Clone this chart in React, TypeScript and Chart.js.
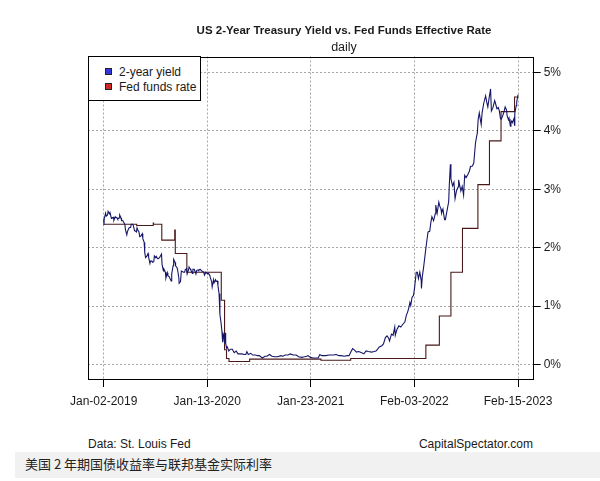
import React, { useEffect, useRef } from "react";
import { Chart, registerables } from "chart.js";

Chart.register(...registerables);

// ---------- DATA ----------
const yieldDates = [
  "2019-01-02","2019-01-03","2019-01-04","2019-01-09","2019-01-11","2019-01-16","2019-01-18","2019-01-23","2019-01-25","2019-01-30",
  "2019-02-01","2019-02-06","2019-02-08","2019-02-13","2019-02-15","2019-02-20","2019-02-22","2019-02-27","2019-03-01","2019-03-06",
  "2019-03-08","2019-03-13","2019-03-15","2019-03-20","2019-03-22","2019-03-27","2019-03-29","2019-04-03","2019-04-05","2019-04-10",
  "2019-04-12","2019-04-17","2019-04-19","2019-04-24","2019-04-26","2019-05-01","2019-05-03","2019-05-08","2019-05-10","2019-05-13",
  "2019-05-17","2019-05-22","2019-05-24","2019-05-29","2019-05-31","2019-06-03","2019-06-07","2019-06-12","2019-06-14","2019-06-19",
  "2019-06-21","2019-06-26","2019-06-28","2019-07-03","2019-07-05","2019-07-10","2019-07-12","2019-07-17","2019-07-19","2019-07-24",
  "2019-07-26","2019-07-31","2019-08-02","2019-08-07","2019-08-09","2019-08-14","2019-08-16","2019-08-21","2019-08-23","2019-08-28",
  "2019-08-30","2019-09-04","2019-09-06","2019-09-11","2019-09-13","2019-09-18","2019-09-20","2019-09-25","2019-09-27","2019-10-02",
  "2019-10-03","2019-10-08","2019-10-11","2019-10-16","2019-10-18","2019-10-23","2019-10-25","2019-10-30","2019-11-01","2019-11-06",
  "2019-11-08","2019-11-13","2019-11-15","2019-11-20","2019-11-22","2019-11-27","2019-12-03","2019-12-06","2019-12-11","2019-12-13",
  "2019-12-18","2019-12-20","2019-12-27","2019-12-31","2020-01-03","2020-01-08","2020-01-10","2020-01-15","2020-01-17","2020-01-22",
  "2020-01-24","2020-01-29","2020-01-31","2020-02-05","2020-02-07","2020-02-12","2020-02-14","2020-02-19","2020-02-21","2020-02-25",
  "2020-02-28","2020-03-03","2020-03-06","2020-03-09","2020-03-11","2020-03-13","2020-03-16","2020-03-18","2020-03-20","2020-03-23",
  "2020-03-26","2020-03-31","2020-04-06","2020-04-13","2020-04-20","2020-04-27","2020-05-04","2020-05-11","2020-05-18","2020-05-26",
  "2020-06-01","2020-06-05","2020-06-10","2020-06-19","2020-06-26","2020-07-06","2020-07-13","2020-07-20","2020-07-31","2020-08-10",
  "2020-08-17","2020-08-26","2020-09-04","2020-09-14","2020-09-25","2020-10-07","2020-10-14","2020-10-22","2020-11-02","2020-11-09",
  "2020-11-20","2020-12-01","2020-12-10","2020-12-21","2020-12-31","2021-01-08","2021-01-13","2021-01-22","2021-02-01","2021-02-10",
  "2021-02-19","2021-02-25","2021-03-04","2021-03-12","2021-03-18","2021-03-31","2021-04-06","2021-04-15","2021-04-26","2021-05-05",
  "2021-05-14","2021-05-25","2021-06-04","2021-06-11","2021-06-17","2021-06-24","2021-06-30","2021-07-08","2021-07-16","2021-07-27",
  "2021-08-04","2021-08-12","2021-08-20","2021-09-01","2021-09-10","2021-09-17","2021-09-24","2021-09-29","2021-10-08","2021-10-14",
  "2021-10-21","2021-10-27","2021-11-02","2021-11-05","2021-11-12","2021-11-18","2021-11-24","2021-11-26","2021-12-02","2021-12-09",
  "2021-12-16","2021-12-22","2021-12-31","2022-01-05","2022-01-10","2022-01-14","2022-01-18","2022-01-21","2022-01-26","2022-01-31",
  "2022-02-04","2022-02-10","2022-02-14","2022-02-18","2022-02-23","2022-02-28","2022-03-01","2022-03-04","2022-03-09","2022-03-11",
  "2022-03-16","2022-03-22","2022-03-25","2022-03-31","2022-04-04","2022-04-08","2022-04-14","2022-04-20","2022-04-22","2022-04-27",
  "2022-05-03","2022-05-06","2022-05-11","2022-05-13","2022-05-18","2022-05-24","2022-05-27","2022-06-02","2022-06-08","2022-06-10",
  "2022-06-14","2022-06-16","2022-06-22","2022-06-27","2022-07-01","2022-07-06","2022-07-12","2022-07-14","2022-07-22","2022-07-27",
  "2022-08-01","2022-08-05","2022-08-10","2022-08-16","2022-08-22","2022-08-26","2022-09-02","2022-09-07","2022-09-13","2022-09-16",
  "2022-09-20","2022-09-23","2022-09-27","2022-09-30","2022-10-04","2022-10-07","2022-10-13","2022-10-20","2022-10-25","2022-10-28",
  "2022-11-02","2022-11-07","2022-11-10","2022-11-15","2022-11-22","2022-11-25","2022-11-30","2022-12-05","2022-12-09","2022-12-13",
  "2022-12-16","2022-12-21","2022-12-27","2022-12-30","2023-01-04","2023-01-06","2023-01-11","2023-01-13","2023-01-18","2023-01-20",
  "2023-01-25","2023-01-31","2023-02-02","2023-02-03","2023-02-08","2023-02-10","2023-02-14","2023-02-15"
];
const yieldValues = [
  2.49,2.39,2.50,2.59,2.54,2.56,2.62,2.58,2.60,2.50,
  2.51,2.52,2.47,2.53,2.52,2.51,2.49,2.51,2.56,2.51,
  2.46,2.46,2.44,2.40,2.31,2.22,2.27,2.33,2.34,2.35,
  2.40,2.40,2.39,2.29,2.29,2.27,2.34,2.28,2.27,2.19,
  2.20,2.24,2.16,2.09,1.92,1.83,1.85,1.90,1.84,1.73,
  1.77,1.77,1.75,1.76,1.86,1.83,1.85,1.81,1.81,1.83,
  1.85,1.89,1.71,1.60,1.63,1.58,1.48,1.57,1.52,1.50,
  1.50,1.43,1.55,1.69,1.80,1.75,1.69,1.66,1.63,1.48,
  1.39,1.42,1.60,1.59,1.58,1.58,1.62,1.64,1.55,1.62,
  1.67,1.63,1.61,1.56,1.63,1.63,1.55,1.61,1.62,1.61,
  1.63,1.63,1.59,1.58,1.53,1.58,1.57,1.55,1.56,1.53,
  1.49,1.42,1.33,1.45,1.40,1.45,1.42,1.43,1.35,1.21,
  0.86,0.72,0.59,0.38,0.52,0.49,0.36,0.54,0.37,0.28,
  0.30,0.23,0.26,0.26,0.20,0.23,0.18,0.18,0.18,0.17,
  0.17,0.22,0.17,0.19,0.16,0.16,0.15,0.15,0.11,0.14,
  0.14,0.17,0.14,0.13,0.13,0.15,0.14,0.16,0.16,0.18,
  0.16,0.16,0.13,0.12,0.13,0.14,0.15,0.12,0.11,0.11,
  0.11,0.17,0.15,0.15,0.15,0.16,0.16,0.16,0.17,0.15,
  0.15,0.14,0.15,0.15,0.21,0.27,0.25,0.21,0.22,0.20,
  0.18,0.23,0.22,0.21,0.22,0.23,0.27,0.30,0.32,0.35,
  0.46,0.49,0.45,0.40,0.52,0.50,0.64,0.50,0.60,0.66,
  0.64,0.68,0.73,0.84,0.90,0.97,1.06,1.01,1.15,1.18,
  1.31,1.58,1.58,1.47,1.58,1.44,1.30,1.50,1.67,1.75,
  1.95,2.17,2.27,2.28,2.43,2.53,2.46,2.58,2.73,2.59,
  2.78,2.72,2.66,2.59,2.66,2.48,2.48,2.64,2.79,3.06,
  3.43,3.18,3.06,3.12,2.84,2.97,3.04,3.16,2.97,3.05,
  2.90,3.24,3.20,3.25,3.31,3.39,3.40,3.45,3.78,3.87,
  3.97,4.20,4.31,4.22,4.11,4.30,4.47,4.60,4.47,4.41,
  4.57,4.72,4.34,4.39,4.52,4.47,4.38,4.40,4.34,4.21,
  4.20,4.26,4.35,4.41,4.36,4.26,4.19,4.22,4.08,4.18,
  4.14,4.21,4.10,4.30,4.43,4.50,4.60,4.62
];

const fedDates = [
  "2019-01-02","2019-05-02","2019-07-01","2019-07-02","2019-08-01","2019-09-17","2019-09-19","2019-10-31",
  "2020-03-04","2020-03-16","2020-03-23","2020-04-01","2020-06-15","2021-03-01","2021-06-17","2022-03-17",
  "2022-05-05","2022-06-16","2022-07-28","2022-09-22","2022-11-03","2022-12-15","2023-02-02","2023-02-15"
];
const fedValues = [
  2.40,2.38,2.42,2.40,2.13,2.30,1.90,1.58,
  1.10,0.25,0.10,0.05,0.09,0.07,0.10,0.33,
  0.83,1.58,2.33,3.08,3.83,4.33,4.58,4.58
];

const tickDates = ["2019-01-02", "2020-01-13", "2021-01-23", "2022-02-03", "2023-02-15"];
const tickLabels = ["Jan-02-2019", "Jan-13-2020", "Jan-23-2021", "Feb-03-2022", "Feb-15-2023"];
const yTicks = [0, 1, 2, 3, 4, 5];

const seriesNames = ["2-year yield", "Fed funds rate"];
const titleText = "US 2-Year Treasury Yield vs. Fed Funds Effective Rate";
const subtitleText = "daily";
const sourceText = "Data: St. Louis Fed";
const creditText = "CapitalSpectator.com";
const captionText = "美国 2 年期国债收益率与联邦基金实际利率";

// ---------- HELPERS ----------
const BASE = Date.UTC(2019, 0, 2);
const toDay = (s: string) => (Date.parse(s + "T00:00:00Z") - BASE) / 86400000;

const FONT = '"Liberation Sans", Arial, Helvetica, sans-serif';
const TEXT = "#1a1a1a";
const YIELD_COLOR = "#161668";
const FED_COLOR = "#4a1818";

const boxPlugin = {
  id: "plotBox",
  afterDraw(chart: any) {
    const { ctx, chartArea } = chart;
    ctx.save();
    ctx.strokeStyle = "#000";
    ctx.lineWidth = 1;
    const l = Math.round(chartArea.left) + 0.5;
    const t = Math.round(chartArea.top) + 0.5;
    const r = Math.round(chartArea.right) + 0.5;
    const b = Math.round(chartArea.bottom) + 0.5;
    ctx.strokeRect(l, t, r - l, b - t);
    ctx.restore();
  },
};

export default function App() {
  const ref = useRef<HTMLCanvasElement | null>(null);

  useEffect(() => {
    if (!ref.current) return;
    const grid = {
      color: "#a6a6a6",
      lineWidth: 1,
      tickColor: "#000",
      tickLength: 8,
      tickBorderDash: [],
    };
    const chart = new Chart(ref.current, {
      type: "line",
      data: {
        datasets: [
          {
            label: seriesNames[0],
            data: yieldDates.map((d, i) => ({ x: toDay(d), y: yieldValues[i] })),
            borderColor: YIELD_COLOR,
            backgroundColor: YIELD_COLOR,
            borderWidth: 1.1,
            pointRadius: 0,
            tension: 0,
            fill: false,
          },
          {
            label: seriesNames[1],
            data: fedDates.map((d, i) => ({ x: toDay(d), y: fedValues[i] })),
            borderColor: FED_COLOR,
            backgroundColor: FED_COLOR,
            borderWidth: 1.1,
            pointRadius: 0,
            stepped: "before",
            fill: false,
          },
        ],
      },
      options: {
        animation: false,
        responsive: false,
        maintainAspectRatio: false,
        layout: { padding: { left: 88, right: 0, top: 0, bottom: 0 } },
        plugins: {
          legend: { display: false },
          tooltip: { enabled: false },
          title: {
            display: true,
            text: titleText,
            color: TEXT,
            font: { family: FONT, size: 11.5, weight: "bold" },
            padding: { top: 24, bottom: 2 },
          },
          subtitle: {
            display: true,
            text: subtitleText,
            color: TEXT,
            font: { family: FONT, size: 12.5, weight: "normal" },
            padding: { top: 0, bottom: 1.7 },
          },
        },
        scales: {
          x: {
            type: "linear",
            min: -57,
            max: 1558,
            afterBuildTicks: (s: any) => {
              s.ticks = tickDates.map((d) => ({ value: toDay(d) }));
            },
            afterFit: (s: any) => {
              s.height = 51;
            },
            ticks: {
              autoSkip: false,
              maxRotation: 0,
              padding: 7,
              color: TEXT,
              font: { family: FONT, size: 12 },
              callback: (_v: any, i: number) => tickLabels[i],
            },
            grid,
            border: { display: false, dash: [2, 2] },
          },
          y: {
            type: "linear",
            position: "right",
            min: -0.25,
            max: 5.275,
            afterBuildTicks: (s: any) => {
              s.ticks = yTicks.map((v) => ({ value: v }));
            },
            afterFit: (s: any) => {
              s.width = 67.3;
            },
            ticks: {
              padding: 3,
              color: TEXT,
              font: { family: FONT, size: 12 },
              callback: (v: any) => `${v}%`,
            },
            grid,
            border: { display: false, dash: [2, 2] },
          },
        },
      } as any,
      plugins: [boxPlugin],
    });
    return () => chart.destroy();
  }, []);

  const sq = (color: string, top: number) => (
    <div
      style={{
        position: "absolute",
        left: 16,
        top,
        width: 7,
        height: 7,
        background: color,
        border: "1px solid #222",
        boxSizing: "border-box",
      }}
    />
  );
  const legendText = (text: string, top: number) => (
    <div
      style={{
        position: "absolute",
        left: 30,
        top,
        fontSize: 12,
        lineHeight: "14px",
        color: TEXT,
        whiteSpace: "nowrap",
      }}
    >
      {text}
    </div>
  );

  return (
    <div
      style={{
        position: "absolute",
        left: 0,
        top: 0,
        width: 600,
        height: 481,
        background: "#fff",
        fontFamily: FONT,
        overflow: "hidden",
      }}
    >
      <canvas
        ref={ref}
        width={600}
        height={430}
        style={{ position: "absolute", left: 0, top: 0, width: 600, height: 430 }}
      />
      <div
        style={{
          position: "absolute",
          left: 88,
          top: 56,
          width: 113,
          height: 45,
          border: "1px solid #000",
          background: "#fff",
          boxSizing: "border-box",
        }}
      >
        {sq("#3535d8", 11)}
        {legendText(seriesNames[0], 8)}
        {sq("#d02828", 26)}
        {legendText(seriesNames[1], 23)}
      </div>
      <div
        style={{
          position: "absolute",
          left: 88,
          top: 437,
          fontSize: 12,
          lineHeight: "14px",
          color: TEXT,
          whiteSpace: "nowrap",
        }}
      >
        {sourceText}
      </div>
      <div
        style={{
          position: "absolute",
          right: 67,
          top: 437,
          fontSize: 12,
          lineHeight: "14px",
          color: TEXT,
          whiteSpace: "nowrap",
        }}
      >
        {creditText}
      </div>
      <div
        style={{
          position: "absolute",
          left: 15,
          top: 452,
          width: 585,
          height: 26,
          background: "#f1f1f1",
        }}
      >
        <div
          style={{
            position: "absolute",
            left: 10,
            top: 4,
            fontFamily: '"Noto Sans CJK SC", sans-serif',
            fontSize: 13,
            lineHeight: "16px",
            color: "#222",
            whiteSpace: "nowrap",
          }}
        >
          {captionText}
        </div>
      </div>
    </div>
  );
}
